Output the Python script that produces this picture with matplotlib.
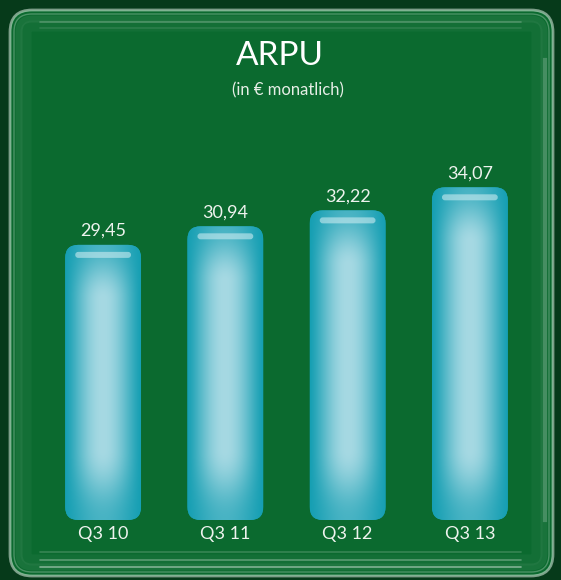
import numpy as np
import matplotlib
matplotlib.use("Agg")
import matplotlib.pyplot as plt
from matplotlib.patches import FancyBboxPatch
from matplotlib.colors import to_rgb

# ── Daten ──
quartale = ["Q3 10", "Q3 11", "Q3 12", "Q3 13"]
arpu = [29.45, 30.94, 32.22, 34.07]
werte_txt = ["29,45", "30,94", "32,22", "34,07"]

titel = "ARPU"
untertitel = "(in € monatlich)"

GRUEN_DUNKEL = "#063a1a"
GRUEN = "#0b6a2f"
RAND = to_rgb("#169fb3")
MITTE = to_rgb("#a6d9e3")
FONT = ["Lato", "DejaVu Sans"]

W, H = 561, 580
fig = plt.figure(figsize=(W / 100, H / 100), dpi=100)
fig.patch.set_facecolor(GRUEN_DUNKEL)

# ── Glas-Rahmen (Pixel-Koordinaten) ──
bg = fig.add_axes([0, 0, 1, 1])
bg.set_xlim(0, W)
bg.set_ylim(H, 0)
bg.axis("off")
bg.add_patch(FancyBboxPatch((10, 10), W - 18, H - 14,
                            boxstyle="round,pad=0,rounding_size=22",
                            facecolor=GRUEN, edgecolor="none"))
for inset, lw, a in [(0, 2.0, 0.55), (4, 1.0, 0.3), (9, 5, 0.07), (16, 8, 0.04)]:
    bg.add_patch(FancyBboxPatch((10 + inset, 10 + inset), W - 18 - 2 * inset, H - 14 - 2 * inset,
                                boxstyle=f"round,pad=0,rounding_size={max(22 - inset, 6)}",
                                facecolor="none", edgecolor="#dff0e4", lw=lw, alpha=a))
# Glanz unten und oben
for y0, a in [(552, 0.18), (560, 0.3), (567, 0.45), (22, 0.22), (28, 0.1)]:
    bg.plot([40, W - 40], [y0, y0], color="white", lw=1.2, alpha=a, solid_capstyle="round")
bg.plot([W - 16, W - 16], [60, 520], color="white", lw=3, alpha=0.2)

# ── Balkendiagramm ──
boden = 7.37
ax = fig.add_axes([42 / W, 60 / H, 489 / W, 440 / H])
ax.set_xlim(-0.5, 3.5)
ax.set_ylim(boden, boden + 440 / 12.46)
ax.axis("off")

breite = 0.62
xs = np.arange(len(quartale))
bars = ax.bar(xs, arpu, width=breite, alpha=0)

px_x = ax.transData.transform((1, 0))[0] - ax.transData.transform((0, 0))[0]
px_y = ax.transData.transform((0, 1))[1] - ax.transData.transform((0, 0))[1]
aspekt = px_x / px_y
radius = 13 / px_x


def glatt(v):
    v = np.clip(v, 0, 1)
    return v * v * (3 - 2 * v)


for b, txt in zip(bars, werte_txt):
    oben = b.get_y() + b.get_height()
    x0, bw = b.get_x(), b.get_width()
    y0 = max(b.get_y(), boden)
    bh = oben - y0
    form = FancyBboxPatch((x0, y0), bw, bh,
                          boxstyle=f"round,pad=0,rounding_size={radius}",
                          mutation_aspect=aspekt, facecolor=RAND, edgecolor="none")
    ax.add_patch(form)

    # Verlauf: hell in der Mitte, türkis am Rand
    wpx, hpx = int(bw * px_x), int(bh * px_y)
    gx, gy = np.meshgrid(np.arange(wpx), np.arange(hpx))
    tx = np.sin(np.pi * (gx + 0.5) / wpx) ** 1.3
    ty = glatt(np.minimum(gy / 70.0, (hpx - 1 - gy) / 55.0))
    t = tx * (0.35 + 0.65 * ty)
    img = np.empty((hpx, wpx, 3))
    for k in range(3):
        img[..., k] = RAND[k] + (MITTE[k] - RAND[k]) * t
    im = ax.imshow(img, extent=(x0, x0 + bw, y0, y0 + bh), origin="lower",
                   aspect="auto", zorder=2, interpolation="bilinear")
    im.set_clip_path(form)

    # Glanzstreifen oben
    glanz = FancyBboxPatch((x0 + 10 / px_x, oben - 13 / px_y), bw - 20 / px_x, 6 / px_y,
                           boxstyle=f"round,pad=0,rounding_size={3 / px_x}",
                           mutation_aspect=aspekt, facecolor="#d8f1f5", edgecolor="none",
                           alpha=0.55, zorder=3)
    ax.add_patch(glanz)

    ax.text(x0 + bw / 2, oben + 6 / px_y, txt, ha="center", va="bottom",
            fontsize=13, color="#eef3ee", family=FONT)

for x, q in zip(xs, quartale):
    ax.text(x, boden - 6 / px_y, q, ha="center", va="top",
            fontsize=13, color="#eef3ee", family=FONT)

fig.text(280 / W, 1 - 56 / H, titel, ha="center", va="center", fontsize=24,
         color="white", family=FONT)
fig.text(288 / W, 1 - 90 / H, untertitel, ha="center", va="center", fontsize=12,
         color="#e6eee6", family=FONT)

fig.savefig("out.png", dpi=100, facecolor=fig.get_facecolor())
